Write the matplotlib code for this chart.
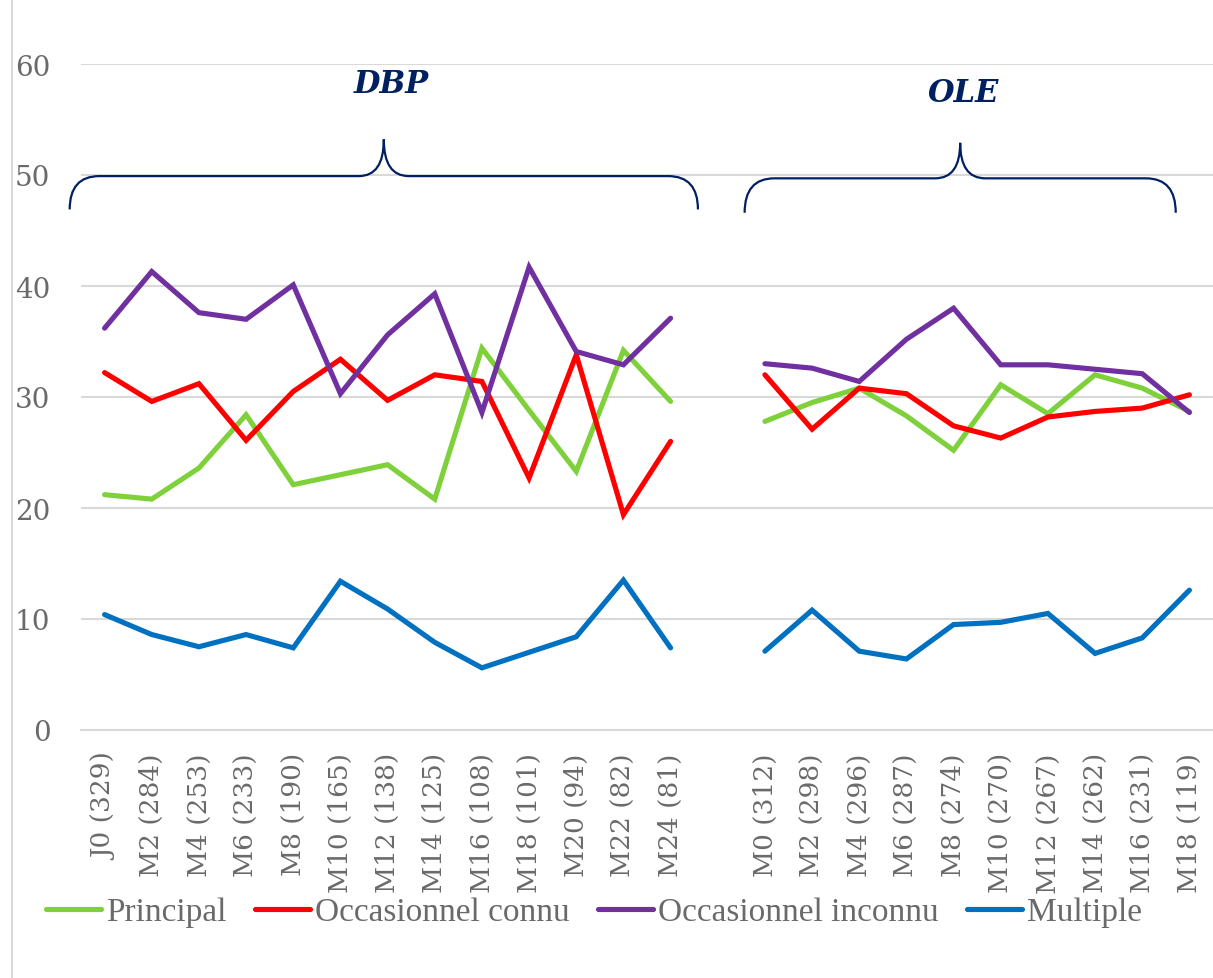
import numpy as np
import matplotlib.pyplot as plt
from matplotlib.path import Path
from matplotlib.patches import PathPatch
from matplotlib.lines import Line2D

# category labels (DBP then OLE, with one empty slot between)
dbp_labels = ["J0 (329)", "M2 (284)", "M4 (253)", "M6 (233)", "M8 (190)", "M10 (165)",
              "M12 (138)", "M14 (125)", "M16 (108)", "M18 (101)", "M20 (94)", "M22 (82)", "M24 (81)"]
ole_labels = ["M0 (312)", "M2 (298)", "M4 (296)", "M6 (287)", "M8 (274)", "M10 (270)",
              "M12 (267)", "M14 (262)", "M16 (231)", "M18 (119)"]

# series values
principal_dbp = [21.2, 20.8, 23.6, 28.4, 22.1, 23.0, 23.9, 20.8, 34.4, 28.8, 23.3, 34.2, 29.6]
principal_ole = [27.8, 29.5, 30.8, 28.3, 25.2, 31.1, 28.5, 32.0, 30.8, 28.7]
connu_dbp = [32.2, 29.6, 31.2, 26.1, 30.5, 33.4, 29.7, 32.0, 31.4, 22.7, 33.8, 19.4, 26.0]
connu_ole = [32.0, 27.1, 30.8, 30.3, 27.4, 26.3, 28.2, 28.7, 29.0, 30.2]
inconnu_dbp = [36.2, 41.3, 37.6, 37.0, 40.1, 30.3, 35.6, 39.3, 28.6, 41.7, 34.1, 32.9, 37.1]
inconnu_ole = [33.0, 32.6, 31.4, 35.2, 38.0, 32.9, 32.9, 32.5, 32.1, 28.6]
multiple_dbp = [10.4, 8.6, 7.5, 8.6, 7.4, 13.4, 10.9, 7.9, 5.6, 7.0, 8.4, 13.5, 7.4]
multiple_ole = [7.1, 10.8, 7.1, 6.4, 9.5, 9.7, 10.5, 6.9, 8.3, 12.6]

labels = dbp_labels + [""] + ole_labels
x = np.arange(len(labels))

def join(a, b):
    return np.array(a + [np.nan] + b, dtype=float)

series = [
    ("Principal", join(principal_dbp, principal_ole), "#7fd13b"),
    ("Occasionnel connu", join(connu_dbp, connu_ole), "#ff0000"),
    ("Occasionnel inconnu", join(inconnu_dbp, inconnu_ole), "#7030a0"),
    ("Multiple", join(multiple_dbp, multiple_ole), "#0070c0"),
]

fig = plt.figure(figsize=(12.13, 9.79), dpi=100)
ax = fig.add_axes([81 / 1213, 248 / 979, 1 - 81 / 1213, 666 / 979])

for name, vals, col in series:
    ax.plot(x, vals, color=col, lw=3.7, label=name, solid_joinstyle="miter", solid_capstyle="round")

ax.set_xlim(-0.5, len(labels) - 0.5)
ax.set_ylim(0, 60)
ax.set_yticks(range(0, 61, 10))
ax.yaxis.grid(True, color="#d9d9d9", lw=1.5)
ax.set_axisbelow(True)
for s in ["top", "right", "left"]:
    ax.spines[s].set_visible(False)
ax.spines["bottom"].set_color("#d9d9d9")
ax.spines["bottom"].set_linewidth(1.5)

ax.set_xticks(x)
ax.set_xticklabels(labels, rotation=90, fontfamily="DejaVu Serif", fontsize=19, color="#6a6a6a")
ax.tick_params(axis="x", length=0, pad=16)
ax.tick_params(axis="y", length=0, pad=22, labelsize=20, labelcolor="#6a6a6a")
for t in ax.get_yticklabels():
    t.set_fontfamily("DejaVu Serif")

# braces above the two groups
navy = "#002060"

def brace(x0, x1, xc, y_end, y_flat, y_tip, rx=0.63, cx=0.53):
    verts = [(x0, y_end), (x0, y_flat), (x0 + rx, y_flat),
             (xc - cx, y_flat),
             (xc, y_flat), (xc, y_tip),
             (xc, y_flat), (xc + cx, y_flat),
             (x1 - rx, y_flat),
             (x1, y_flat), (x1, y_end)]
    codes = [Path.MOVETO, Path.CURVE3, Path.CURVE3,
             Path.LINETO,
             Path.CURVE3, Path.CURVE3,
             Path.CURVE3, Path.CURVE3,
             Path.LINETO,
             Path.CURVE3, Path.CURVE3]
    ax.add_patch(PathPatch(Path(verts, codes), fc="none", ec=navy, lw=1.6, clip_on=False))

brace(-0.74, 12.58, 5.92, 46.9, 49.9, 53.2)
brace(13.57, 22.71, 18.14, 46.6, 49.7, 52.9)

ax.text(6.07, 58.2, "DBP", ha="center", va="center", fontsize=22, fontweight="bold",
        fontstyle="italic", fontfamily="DejaVu Serif", color=navy)
ax.text(18.2, 57.4, "OLE", ha="center", va="center", fontsize=22, fontweight="bold",
        fontstyle="italic", fontfamily="DejaVu Serif", color=navy)

leg = fig.legend(loc="center", bbox_to_anchor=(594 / 1213, 1 - 913 / 979), ncol=4, frameon=False,
                 prop={"family": "Liberation Serif", "size": 24}, handlelength=1.65,
                 handletextpad=0.15, columnspacing=0.85, borderaxespad=0)
for t in leg.get_texts():
    t.set_color("#6a6a6a")

# light chart-area border on the left
fig.add_artist(Line2D([12 / 1213, 12 / 1213], [0, 1], color="#d9d9d9", lw=1.5))

fig.savefig("out.png", dpi=100)
